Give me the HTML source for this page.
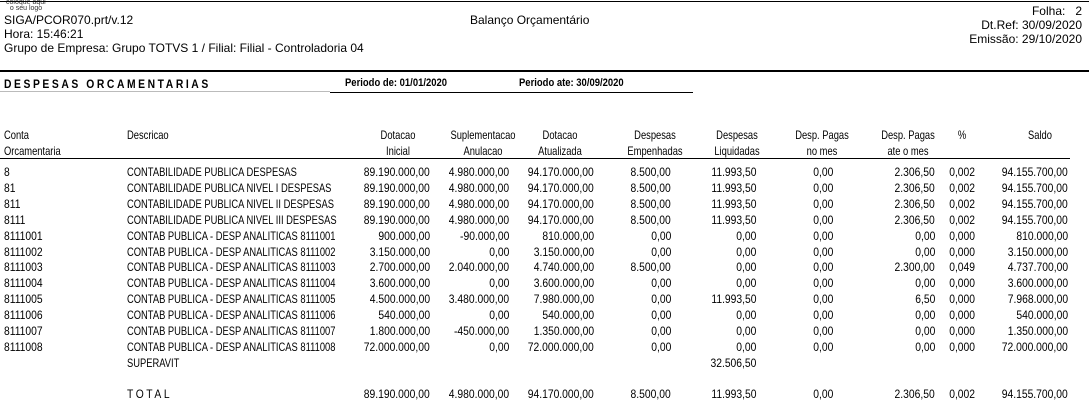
<!DOCTYPE html>
<html><head><meta charset="utf-8">
<style>
body{margin:0;background:#fff;}
#page{position:relative;width:1089px;height:415px;overflow:hidden;background:#fff;font-family:"Liberation Sans",Arial,sans-serif;color:#000;}
.t{position:absolute;white-space:nowrap;line-height:1;}
.h{font-size:12px;}
.c{font-size:12px;transform:scaleX(0.86);}
.n{transform:scaleX(0.78);}
.l{transform-origin:left center;}
.r{transform-origin:right center;}
.m{transform-origin:center center;}
.b{font-weight:bold;}
.line{position:absolute;background:#000;}
</style></head><body>
<div id="page">
<div class="t" style="left:6px;top:0px;font-size:7px;line-height:6px;color:#333">coloque aqui<br>&nbsp;&nbsp;o seu logo</div>
<div class="line" style="left:0;top:1px;width:1089px;height:1px"></div>
<div class="t h" style="left:4px;top:14px">SIGA/PCOR070.prt/v.12</div>
<div class="t h" style="left:4px;top:28px">Hora: 15:46:21</div>
<div class="t h" style="left:4px;top:42px">Grupo de Empresa: Grupo TOTVS 1 / Filial: Filial - Controladoria 04</div>
<div class="t h" style="left:470px;top:14px">Balanço Orçamentário</div>
<div class="t h" style="right:7px;top:5px">Folha:&nbsp;&nbsp;&nbsp;2</div>
<div class="t h" style="right:7px;top:19px">Dt.Ref: 30/09/2020</div>
<div class="t h" style="right:7px;top:33px">Emissão: 29/10/2020</div>
<div class="line" style="left:0;top:70px;width:1089px;height:2px"></div>
<div class="t c l b" style="left:4px;top:78px;letter-spacing:3px">DESPESAS ORCAMENTARIAS</div>
<div class="t c l b" style="left:345px;top:78px;font-size:11px">Periodo de: 01/01/2020</div>
<div class="t c l b" style="left:519px;top:78px;font-size:11px">Periodo ate: 30/09/2020</div>
<div class="line" style="left:0;top:91px;width:330px;height:1px;background:#bbb"></div>
<div class="line" style="left:330px;top:92px;width:363px;height:1px"></div>
<div class="line" style="left:0;top:158px;width:1070px;height:1px"></div>
</div>
<script>
const accounts=["8","81","811","8111","8111001","8111002","8111003","8111004","8111005","8111006","8111007","8111008"];
const descriptions=["CONTABILIDADE PUBLICA DESPESAS","CONTABILIDADE PUBLICA NIVEL I DESPESAS","CONTABILIDADE PUBLICA NIVEL II DESPESAS","CONTABILIDADE PUBLICA NIVEL III DESPESAS","CONTAB PUBLICA - DESP ANALITICAS 8111001","CONTAB PUBLICA - DESP ANALITICAS 8111002","CONTAB PUBLICA - DESP ANALITICAS 8111003","CONTAB PUBLICA - DESP ANALITICAS 8111004","CONTAB PUBLICA - DESP ANALITICAS 8111005","CONTAB PUBLICA - DESP ANALITICAS 8111006","CONTAB PUBLICA - DESP ANALITICAS 8111007","CONTAB PUBLICA - DESP ANALITICAS 8111008"];
const dotInicial=["89.190.000,00","89.190.000,00","89.190.000,00","89.190.000,00","900.000,00","3.150.000,00","2.700.000,00","3.600.000,00","4.500.000,00","540.000,00","1.800.000,00","72.000.000,00"];
const suplementacao=["4.980.000,00","4.980.000,00","4.980.000,00","4.980.000,00","-90.000,00","0,00","2.040.000,00","0,00","3.480.000,00","0,00","-450.000,00","0,00"];
const dotAtualizada=["94.170.000,00","94.170.000,00","94.170.000,00","94.170.000,00","810.000,00","3.150.000,00","4.740.000,00","3.600.000,00","7.980.000,00","540.000,00","1.350.000,00","72.000.000,00"];
const empenhadas=["8.500,00","8.500,00","8.500,00","8.500,00","0,00","0,00","8.500,00","0,00","0,00","0,00","0,00","0,00"];
const liquidadas=["11.993,50","11.993,50","11.993,50","11.993,50","0,00","0,00","0,00","0,00","11.993,50","0,00","0,00","0,00"];
const pagasMes=["0,00","0,00","0,00","0,00","0,00","0,00","0,00","0,00","0,00","0,00","0,00","0,00"];
const pagasAte=["2.306,50","2.306,50","2.306,50","2.306,50","0,00","0,00","2.300,00","0,00","6,50","0,00","0,00","0,00"];
const percent=["0,002","0,002","0,002","0,002","0,000","0,000","0,049","0,000","0,000","0,000","0,000","0,000"];
const saldo=["94.155.700,00","94.155.700,00","94.155.700,00","94.155.700,00","810.000,00","3.150.000,00","4.737.700,00","3.600.000,00","7.968.000,00","540.000,00","1.350.000,00","72.000.000,00"];
const totals=["89.190.000,00","4.980.000,00","94.170.000,00","8.500,00","11.993,50","0,00","2.306,50","0,002","94.155.700,00"];
const superavit="32.506,50";
const headers1=["Dotacao","Suplementacao","Dotacao","Despesas","Despesas","Desp. Pagas","Desp. Pagas","%","Saldo"];
const headers2=["Inicial","Anulacao","Atualizada","Empenhadas","Liquidadas","no mes","ate o mes","",""];

const page=document.getElementById('page');
const rightEdges=[430,509,594,671,756,833,935,975,1068];
const headCenters=[398,483,560,655,737,822,908,962,1040];
const colNames=['dotacao-inicial','suplementacao','dotacao-atualizada','despesas-empenhadas','despesas-liquidadas','pagas-no-mes','pagas-ate-mes','percent','saldo'];
function rowY(i){return 172+i*15.9;}
function txt(s,cls,x,y,align){
  const d=document.createElement('div');
  d.className='t c '+cls;
  d.textContent=s;
  if(align==='r'){d.style.right=(1089-x)+'px';}
  else if(align==='m'){d.style.left=(x-100)+'px';d.style.width='200px';d.style.textAlign='center';}
  else{d.style.left=x+'px';}
  d.style.top=(y-6)+'px';
  page.appendChild(d);
  return d;
}
let e;
e=txt('Conta','l n',4,135,'l');


e=txt('Orcamentaria','l n',4,151,'l');


e=txt('Descricao','l n',127,135,'l');


for(let c=0;c<9;c++){
  e=txt(headers1[c],'m n',headCenters[c],135,'m');
  
  
  if(headers2[c]){
    e=txt(headers2[c],'m n',headCenters[c],151,'m');
    
    
  }
}
const cols=[dotInicial,suplementacao,dotAtualizada,empenhadas,liquidadas,pagasMes,pagasAte,percent,saldo];
for(let i=0;i<accounts.length;i++){
  const y=rowY(i);
  e=txt(accounts[i],'l',4,y,'l');
  
  
  e=txt(descriptions[i],'l n',127,y,'l');
  
  
  for(let c=0;c<9;c++){
    e=txt(cols[c][i],'r',rightEdges[c],y,'r');
    
    
  }
}
e=txt('SUPERAVIT','l n',127,363,'l');


e=txt(superavit,'r',rightEdges[4],363,'r');


e=txt('TOTAL','l',127,394,'l');
e.style.letterSpacing='3px';


for(let c=0;c<9;c++){
  e=txt(totals[c],'r',rightEdges[c],394,'r');
  
  
}
</script>
</body></html>
